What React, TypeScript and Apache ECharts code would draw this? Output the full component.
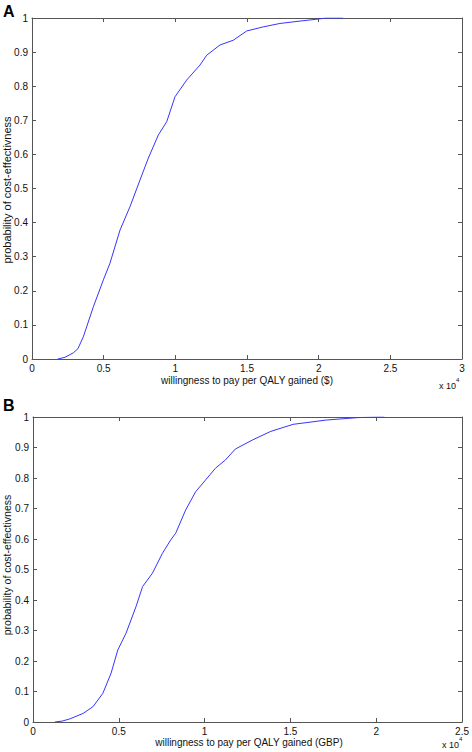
import React, { useEffect, useRef } from "react";
import * as echarts from "echarts";

// Panel A: willingness to pay ($) vs probability of cost-effectiveness
const wtpA = [1800, 2300, 2880, 3200, 3580, 4280, 4980, 5440, 6140, 6840, 7535, 8115, 8815, 9400, 9977, 10790, 11720, 12190, 13120, 14050, 14980, 16140, 17300, 18700, 19980, 20500, 21700];
const probA = [0, 0.005, 0.018, 0.03, 0.065, 0.153, 0.232, 0.281, 0.378, 0.447, 0.525, 0.589, 0.657, 0.696, 0.769, 0.818, 0.862, 0.891, 0.921, 0.935, 0.962, 0.974, 0.984, 0.991, 0.997, 1, 1];

// Panel B: willingness to pay (GBP)
const wtpB = [1273, 1700, 2140, 2912, 3490, 4070, 4550, 4940, 5420, 6000, 6385, 6960, 7540, 8025, 8315, 8895, 9475, 10050, 10630, 11210, 11790, 12800, 13860, 15160, 17090, 18920, 20080, 20470];
const probB = [0, 0.003, 0.01, 0.028, 0.05, 0.094, 0.16, 0.236, 0.291, 0.378, 0.444, 0.488, 0.553, 0.597, 0.619, 0.695, 0.755, 0.793, 0.832, 0.859, 0.895, 0.925, 0.953, 0.976, 0.99, 0.998, 1, 1];

const xMaxA = 30000;
const xMaxB = 25000;
const xInterval = 5000;
const yInterval = 0.1;

const titleA = "willingness to pay per QALY gained ($)";
const titleB = "willingness to pay per QALY gained (GBP)";
const yTitle = "probability of cost-effectivness";

const FONT = '"Liberation Sans", Arial, sans-serif';
const AXIS = "#555";
const LINE = "#3535ff";

function App() {
  const ref = useRef<HTMLDivElement>(null);
  useEffect(() => {
    if (!ref.current) return;
    const chart = echarts.init(ref.current, null, { renderer: "svg" });
    const gridA = { left: 32, top: 18, width: 430, height: 341 };
    const gridB = { left: 33, top: 417, width: 432, height: 305 };

    const xLabelFmt = (v: number) => String(v / 10000);
    const yLabelFmt = (v: number) => String(parseFloat(v.toFixed(1)));

    const mkX = (gridIndex: number, max: number, position: string, showLabel: boolean) => ({
      type: "value",
      gridIndex,
      min: 0,
      max,
      interval: xInterval,
      position,
      axisLine: { show: true, onZero: false, lineStyle: { color: AXIS, width: 1 } },
      axisTick: { show: true, inside: true, length: 4, lineStyle: { color: AXIS } },
      axisLabel: {
        show: showLabel,
        fontSize: 10,
        color: "#111",
        fontFamily: FONT,
        margin: 4,
        showMinLabel: true,
        showMaxLabel: true,
        formatter: xLabelFmt,
      },
      splitLine: { show: false },
    });
    const mkY = (gridIndex: number, position: string, showLabel: boolean) => ({
      type: "value",
      gridIndex,
      min: 0,
      max: 1,
      interval: yInterval,
      position,
      axisLine: { show: true, onZero: false, lineStyle: { color: AXIS, width: 1 } },
      axisTick: { show: true, inside: true, length: 4, lineStyle: { color: AXIS } },
      axisLabel: {
        show: showLabel,
        fontSize: 10,
        color: "#111",
        fontFamily: FONT,
        margin: 4,
        showMinLabel: true,
        showMaxLabel: true,
        formatter: yLabelFmt,
      },
      splitLine: { show: false },
    });

    const textStyle = (text: string, fontSize: number, extra: any = {}) => ({
      text,
      fontSize,
      fontFamily: FONT,
      fill: "#111",
      ...extra,
    });

    chart.setOption({
      animation: false,
      backgroundColor: "#fff",
      grid: [gridA, gridB],
      xAxis: [mkX(0, xMaxA, "bottom", true), mkX(0, xMaxA, "top", false), mkX(1, xMaxB, "bottom", true), mkX(1, xMaxB, "top", false)],
      yAxis: [mkY(0, "left", true), mkY(0, "right", false), mkY(1, "left", true), mkY(1, "right", false)],
      series: [
        {
          type: "line",
          xAxisIndex: 0,
          yAxisIndex: 0,
          showSymbol: false,
          data: wtpA.map((x, i) => [x, probA[i]]),
          lineStyle: { color: LINE, width: 1 },
          itemStyle: { color: LINE },
        },
        {
          type: "line",
          xAxisIndex: 2,
          yAxisIndex: 2,
          showSymbol: false,
          data: wtpB.map((x, i) => [x, probB[i]]),
          lineStyle: { color: LINE, width: 1 },
          itemStyle: { color: LINE },
        },
      ],
      graphic: [
        { type: "text", left: 3, top: 3, style: textStyle("A", 16, { fontWeight: "bold", fill: "#000" }) },
        { type: "text", left: 3, top: 397, style: textStyle("B", 16, { fontWeight: "bold", fill: "#000" }) },
        { type: "text", x: 247, y: 380, style: textStyle(titleA, 10, { align: "center", verticalAlign: "middle" }) },
        { type: "text", x: 249, y: 742, style: textStyle(titleB, 10, { align: "center", verticalAlign: "middle" }) },
        { type: "text", x: 456, y: 386, style: textStyle("x 10", 9, { align: "right", verticalAlign: "middle" }) },
        { type: "text", x: 456, y: 380, style: textStyle("4", 6, { align: "left", verticalAlign: "middle" }) },
        { type: "text", x: 459, y: 745, style: textStyle("x 10", 9, { align: "right", verticalAlign: "middle" }) },
        { type: "text", x: 459, y: 739, style: textStyle("4", 6, { align: "left", verticalAlign: "middle" }) },
        { type: "text", x: 7, y: 190, rotation: Math.PI / 2, style: textStyle(yTitle, 11, { align: "center", verticalAlign: "middle" }) },
        { type: "text", x: 7, y: 565, rotation: Math.PI / 2, style: textStyle(yTitle, 10.5, { align: "center", verticalAlign: "middle" }) },
      ],
    });
    return () => chart.dispose();
  }, []);
  return (
    <div
      ref={ref}
      style={{ position: "fixed", left: 0, top: 0, width: 472, height: 752, background: "#fff" }}
    />
  );
}

export default App;
